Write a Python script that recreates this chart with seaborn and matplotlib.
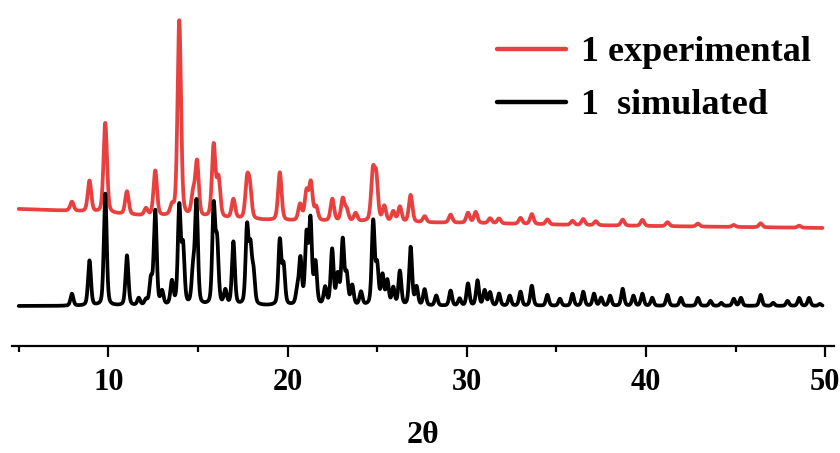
import numpy as np
import pandas as pd
import matplotlib
matplotlib.use("Agg")
import matplotlib.pyplot as plt
import seaborn as sns
from matplotlib.ticker import MultipleLocator

# ---- data (2theta positions, peak heights in px-like units) ----
sim_pos = [7.97, 8.95, 9.83, 11.04, 11.7, 12.1, 12.38, 12.62, 13.0, 13.55, 13.96, 14.17,
           14.73, 14.92, 15.88, 16.07, 16.53, 16.98, 17.74, 17.93, 18.1, 19.57, 19.78,
           20.54, 20.72, 21.06, 21.28, 21.56, 22.1, 22.49, 22.8, 23.08, 23.3, 23.61, 24.1,
           24.78, 25.0, 25.3, 25.57, 25.9, 26.27, 26.87, 27.2, 27.65, 28.3, 29.1, 29.6,
           30.07, 30.6, 31.0, 31.3, 31.8, 32.4, 33.0, 33.63, 34.5, 35.2, 35.9, 36.5, 37.1,
           37.5, 38.0, 38.7, 39.3, 39.8, 40.35, 41.2, 41.95, 42.9, 43.6, 44.2, 44.9, 45.3,
           46.4, 47.1, 47.9, 48.55, 49.1, 49.7]
sim_int = [12, 45, 112, 50, 7, 5, 25, 94, 13, 23, 97, 56,
           33, 102, 97, 60, 14, 63, 76, 53, 30, 64, 38,
           13, 45, 68, 83, 41, 17, 55, 29, 64, 29, 19, 13,
           83, 38, 29, 24, 17, 34, 58, 18, 16, 10, 15, 7,
           22, 25, 15, 13, 12, 10, 14, 20, 11, 7, 12, 14, 12,
           8, 10, 17, 10, 12, 8, 11, 8, 8, 5, 3, 7, 8,
           11, 3, 5, 8, 8, 2]

exp_pos = [7.97, 8.95, 9.83, 11.04, 12.1, 12.62, 13.55, 13.96, 14.73, 14.95, 15.88, 16.15,
           16.98, 17.74, 17.9, 19.57, 20.7, 21.06, 21.3, 21.6, 22.5, 23.08, 23.3, 23.8,
           24.76, 24.95, 25.4, 25.9, 26.27, 26.87, 27.65, 29.1, 30.07, 30.5, 31.3, 31.8,
           33.0, 33.63, 34.5, 35.9, 36.5, 37.2, 38.7, 39.8, 41.2, 42.9, 44.9, 46.4, 48.55]
exp_int = [9, 31, 90, 23, 7, 45, 9, 196, 21, 54, 72, 38,
           19, 36, 29, 48, 16, 28, 37, 13, 22, 22, 11, 8,
           47, 42, 15, 10, 15, 27, 6, 8, 10, 11, 5, 5,
           6, 10, 5, 4, 6, 4, 6, 6, 4, 3, 2, 4, 2]

# background level of the experimental trace above the simulated baseline
bg_pos = [5, 8, 12, 17, 20, 30, 36, 40, 50]
bg_val = [97, 95, 90, 87, 85, 83, 81, 80, 78]

labels = ["1 experimental", "1  simulated"]
colors = ["#e8403f", "#000000"]
xticks = [10, 20, 30, 40, 50]

# ---- build curves from the peak lists ----
x = np.linspace(5, 49.85, 4486)


def pattern(pos, inten, fwhm):
    y = np.zeros_like(x)
    hw = fwhm / 2
    for p, h in zip(pos, inten):
        d = (x - p) / hw
        lor = 1 / (1 + d ** 2)
        gau = np.exp(-np.log(2) * d ** 2)
        y += h * (0.35 * lor + 0.65 * gau)
    return y


sim = pattern(sim_pos, sim_int, 0.19)
exp = pattern(exp_pos, exp_int, 0.23) + np.interp(x, bg_pos, bg_val)

df = pd.concat([
    pd.DataFrame({"2θ": x, "I": exp, "pattern": labels[0]}),
    pd.DataFrame({"2θ": x, "I": sim, "pattern": labels[1]}),
])

sns.set_theme(style="white")
plt.rcParams["font.family"] = ["Liberation Serif", "DejaVu Serif"]
plt.rcParams["font.weight"] = "bold"
plt.rcParams["text.color"] = "black"
plt.rcParams["axes.labelcolor"] = "black"
plt.rcParams["xtick.color"] = "black"

fig = plt.figure(figsize=(8.4, 4.53), dpi=100)
ax = fig.add_axes([11.8 / 840, 1 - 345.7 / 453, (833.6 - 11.8) / 840, 345.7 / 453])

sns.lineplot(data=df, x="2θ", y="I", hue="pattern", palette=colors,
             hue_order=labels, linewidth=2.7, ax=ax, estimator=None, sort=False)

ax.set_xlim(4.615, 50.47)
ax.set_ylim(-39.7, 306)
ax.set_yticks([])
ax.set_ylabel("")
for s in ["left", "right", "top"]:
    ax.spines[s].set_visible(False)
ax.spines["bottom"].set_linewidth(1.6)
ax.spines["bottom"].set_color("black")
ax.set_xticks(xticks)
ax.set_xticklabels([str(t) for t in xticks])
ax.xaxis.set_minor_locator(MultipleLocator(5))
ax.tick_params(axis="x", which="major", direction="out", length=8, width=1.6,
               pad=8, labelsize=22, bottom=True, colors="black")
ax.tick_params(axis="x", which="minor", direction="out", length=4.5, width=1.6,
               bottom=True, colors="black")
for lab in ax.get_xticklabels():
    lab.set_fontweight("bold")
    lab.set_color("black")
ax.set_xlabel("2θ", fontsize=23, fontweight="bold", labelpad=17, color="black")

ax.get_legend().remove()
handles, _ = ax.get_legend_handles_labels()
leg = fig.legend(handles=handles, labels=labels, loc="upper left",
                 bbox_to_anchor=(497 / 840, 1 - 36 / 453), frameon=False,
                 borderpad=0, borderaxespad=0, handlelength=1.9, handletextpad=0.42,
                 labelspacing=0.55, prop={"size": 26, "weight": "bold"})
for ln in leg.get_lines():
    ln.set_linewidth(3.2)
for t in leg.get_texts():
    t.set_color("black")

fig.savefig("out.png", dpi=100)
